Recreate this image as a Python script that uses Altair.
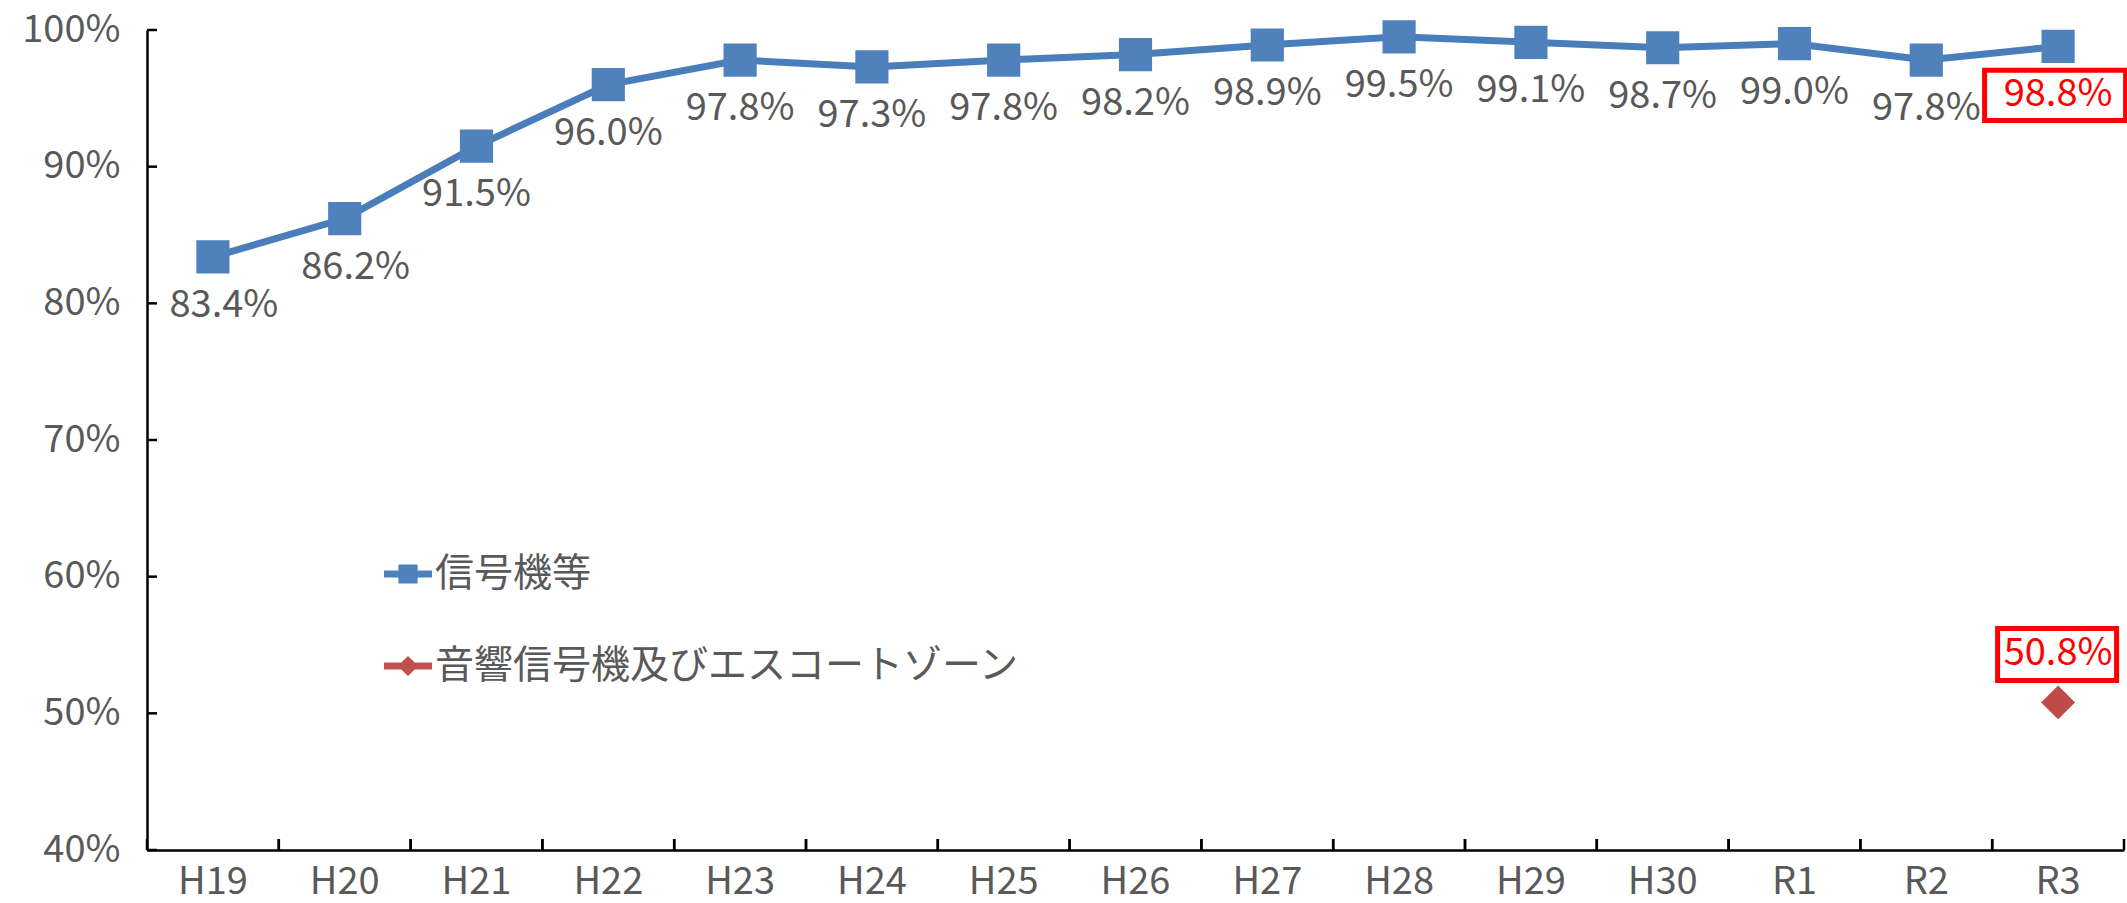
import altair as alt
import pandas as pd

categories = ["H19", "H20", "H21", "H22", "H23", "H24", "H25", "H26", "H27", "H28",
              "H29", "H30", "R1", "R2", "R3"]
signal_values = [83.4, 86.2, 91.5, 96.0, 97.8, 97.3, 97.8, 98.2, 98.9, 99.5,
                 99.1, 98.7, 99.0, 97.8, 98.8]
acoustic_categories = ["R3"]
acoustic_values = [50.8]
series_names = ["信号機等", "音響信号機及びエスコートゾーン"]
y_ticks = [0.4, 0.5, 0.6, 0.7, 0.8, 0.9, 1.0]
highlight = "R3"
shifted_labels = ["H19", "H20"]

BLUE = "#4A7EBB"
RED = "#BE4B48"
GRAY = "#595959"
FONT = "Noto Sans CJK JP"

df1 = pd.DataFrame({
    "cat": categories,
    "value": [v / 100 for v in signal_values],
    "series": series_names[0],
    "label": [f"{v:.1f}%" for v in signal_values],
})
df2 = pd.DataFrame({
    "cat": acoustic_categories,
    "value": [v / 100 for v in acoustic_values],
    "series": series_names[1],
    "label": [f"{v:.1f}%" for v in acoustic_values],
})
df_all = pd.concat([df1, df2], ignore_index=True)
df_ticks = pd.DataFrame({"value": y_ticks})

W, H = 1977, 820

x_scale = alt.Scale(type="band", domain=categories, paddingInner=0, paddingOuter=0)
x_axis = alt.Axis(title=None, labelAngle=0, ticks=False, domainColor="black",
                  domainWidth=2.5, labelFontSize=38, labelColor=GRAY, labelFont=FONT,
                  labelPadding=32, labelBaseline="middle", grid=False, bandPosition=0.5)
x_enc = alt.X("cat:N", sort=categories, scale=x_scale, axis=x_axis)
y_scale = alt.Scale(domain=[0.4, 1.0], nice=False, zero=False)
y_axis = alt.Axis(title=None, format=".0%", values=y_ticks, ticks=False, grid=False,
                  domainColor="black", domainWidth=2.5, labelFontSize=38,
                  labelColor=GRAY, labelFont=FONT, labelPadding=27)
y_enc = alt.Y("value:Q", scale=y_scale, axis=y_axis)

line = alt.Chart(df1).mark_line(color=BLUE, strokeWidth=7).encode(x=x_enc, y=y_enc)
squares = alt.Chart(df1).mark_point(shape="square", filled=True, size=1100,
                                    color="#4F81BD", opacity=1).encode(x=x_enc, y=y_enc)
diamonds = alt.Chart(df2).mark_point(shape="diamond", filled=True, size=1150,
                                     color=RED, opacity=1).encode(x=x_enc, y=y_enc)

label_color = alt.condition(f"datum.cat == '{highlight}'", alt.value("#FF0000"), alt.value(GRAY))
shift_test = "indexof(" + str(shifted_labels).replace('"', "'") + ", datum.cat) >= 0"
labels1 = alt.Chart(df1).transform_filter("!(" + shift_test + ")").mark_text(
    dy=49, fontSize=38, font=FONT, baseline="middle").encode(
    x=x_enc, y=y_enc, text="label:N", color=label_color)
labels1s = alt.Chart(df1).transform_filter(shift_test).mark_text(
    dy=49, dx=11, fontSize=38, font=FONT, baseline="middle").encode(
    x=x_enc, y=y_enc, text="label:N", color=label_color)
labels2 = alt.Chart(df2).mark_text(dy=-48, fontSize=38, font=FONT, baseline="middle",
                                   color="#FF0000").encode(x=x_enc, y=y_enc, text="label:N")

rect1 = "M-1,-0.355L1,-0.355L1,0.355L-1,0.355Z"
rect2 = "M-1,-0.437L1,-0.437L1,0.437L-1,0.437Z"
box1 = alt.Chart(df1).transform_filter(f"datum.cat == '{highlight}'").mark_point(
    shape=rect1, size=19881, stroke="#FF0000", strokeWidth=5, filled=False,
    yOffset=49, xOffset=-3, opacity=1).encode(x=x_enc, y=y_enc)
box2 = alt.Chart(df2).mark_point(
    shape=rect2, size=14161, stroke="#FF0000", strokeWidth=5, filled=False,
    yOffset=-48, xOffset=-1, opacity=1).encode(x=x_enc, y=y_enc)

# inward tick marks
yticks = alt.Chart(df_ticks).mark_rule(color="black", strokeWidth=2.5).encode(
    y=alt.Y("value:Q", scale=y_scale, axis=y_axis),
    x=alt.value(0), x2=alt.value(10))
xticks0 = alt.Chart(df1).mark_rule(color="black", strokeWidth=2.5).encode(
    x=alt.X("cat:N", sort=categories, bandPosition=0, scale=x_scale, axis=x_axis),
    y=alt.value(H - 11), y2=alt.value(H))
xticks1 = alt.Chart(df1).mark_rule(color="black", strokeWidth=2.5).encode(
    x=alt.X("cat:N", sort=categories, bandPosition=1, scale=x_scale, axis=x_axis),
    y=alt.value(H - 11), y2=alt.value(H))

sq_path = ("M-1,-0.145L-0.4,-0.145L-0.4,-0.4L0.4,-0.4L0.4,-0.145L1,-0.145L1,0.145"
           "L0.4,0.145L0.4,0.4L-0.4,0.4L-0.4,0.145L-1,0.145Z")
dm_path = ("M-1,-0.145L-0.28,-0.145L0,-0.42L0.28,-0.145L1,-0.145L1,0.145L0.28,0.145L0,0.42"
           "L-0.28,0.145L-1,0.145Z")
leg = alt.Legend(orient="none", legendX=237, legendY=520, title=None, symbolSize=2304,
                 symbolOpacity=1, symbolStrokeWidth=0, labelFontSize=39, labelColor=GRAY,
                 labelFont=FONT, rowPadding=48, padding=0, labelOffset=3, labelLimit=0)
legend_layer = alt.Chart(df_all).mark_point(filled=True, opacity=0).encode(
    x=x_enc, y=y_enc,
    color=alt.Color("series:N", scale=alt.Scale(domain=series_names, range=["#4F81BD", "#C0504D"]),
                    legend=leg),
    shape=alt.Shape("series:N", scale=alt.Scale(domain=series_names, range=[sq_path, dm_path]),
                    legend=leg),
)

chart = alt.layer(
    line, squares, diamonds, labels1, labels1s, labels2, box1, box2, legend_layer,
    yticks, xticks0, xticks1,
).properties(
    width=W, height=H,
    autosize=alt.AutoSizeParams(type="none"),
    padding={"left": 147, "top": 30, "right": 3, "bottom": 53},
    background="white",
).configure_view(stroke=None)

chart.save("out.html", embed_options={"renderer": "svg", "actions": False})
